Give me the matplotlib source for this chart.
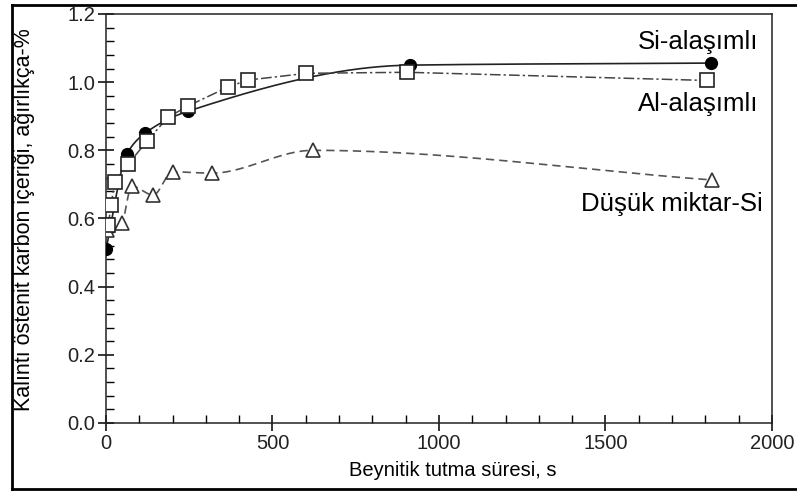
import numpy as np
import matplotlib
matplotlib.use("Agg")
import matplotlib.pyplot as plt
from matplotlib.ticker import MultipleLocator, FormatStrFormatter
from matplotlib.lines import Line2D

plt.rcParams['font.family'] = ['Liberation Sans', 'DejaVu Sans']

# Data
si_time = [0, 63, 117, 247, 914, 1816]
si_carbon = [0.51, 0.79, 0.85, 0.915, 1.05, 1.056]

al_time = [7, 15, 27, 67, 124, 186, 246, 365, 425, 602, 904, 1805]
al_carbon = [0.58, 0.64, 0.708, 0.76, 0.828, 0.897, 0.93, 0.985, 1.006, 1.026, 1.029, 1.005]

low_time = [2, 47, 77, 142, 200, 317, 621, 1820]
low_carbon = [0.566, 0.586, 0.695, 0.669, 0.737, 0.733, 0.80, 0.713]

series_labels = ["Si-alaşımlı", "Al-alaşımlı", "Düşük miktar-Si"]
x_label = "Beynitik tutma süresi, s"
y_label = "Kalıntı östenit karbon içeriği, ağırlıkça-%"


def pchip(x, y, n=400):
    """Monotone cubic (Fritsch-Carlson) curve through the given points, for drawing."""
    x = np.asarray(x, float)
    y = np.asarray(y, float)
    h = np.diff(x)
    d = np.diff(y) / h
    m = np.zeros_like(y)
    m[0] = d[0]
    m[-1] = d[-1]
    for i in range(1, len(x) - 1):
        if d[i - 1] * d[i] <= 0:
            m[i] = 0
        else:
            w1 = 2 * h[i] + h[i - 1]
            w2 = h[i] + 2 * h[i - 1]
            m[i] = (w1 + w2) / (w1 / d[i - 1] + w2 / d[i])
    xs = np.linspace(x[0], x[-1], n)
    idx = np.clip(np.searchsorted(x, xs) - 1, 0, len(x) - 2)
    t = (xs - x[idx]) / h[idx]
    h00 = 2 * t**3 - 3 * t**2 + 1
    h10 = t**3 - 2 * t**2 + t
    h01 = -2 * t**3 + 3 * t**2
    h11 = t**3 - t**2
    ys = h00 * y[idx] + h10 * h[idx] * m[idx] + h01 * y[idx + 1] + h11 * h[idx] * m[idx + 1]
    return xs, ys


W, H = 797, 492
fig = plt.figure(figsize=(W / 100, H / 100), dpi=100)
ax = fig.add_axes([106 / W, 1 - 423 / H, (772 - 106) / W, (423 - 14) / H])

# Si-alloyed: smooth solid curve
xs, ys = pchip(si_time, si_carbon)
ax.plot(xs, ys, color='#222222', lw=1.2, zorder=2)
ax.plot(si_time, si_carbon, 'o', color='black', ms=8.5, zorder=4)

# Al-alloyed: dash-dot line
ax.plot(al_time, al_carbon, color='#444444', lw=1.1, ls=(0, (7, 2, 1.5, 2)), zorder=2)
ax.plot(al_time, al_carbon, 's', mfc='white', mec='#222222', mew=1.2, ms=9.5, zorder=5)

# Low-Si: dashed line
xl, yl = pchip(low_time, low_carbon)
ax.plot(xl, yl, color='#555555', lw=1.2, ls=(0, (5, 3)), zorder=2)
ax.plot(low_time, low_carbon, '^', mfc='white', mec='#333333', mew=1.2, ms=9.5, zorder=3)

ax.set_xlim(0, 2000)
ax.set_ylim(0, 1.2)
ax.xaxis.set_major_locator(MultipleLocator(500))
ax.xaxis.set_minor_locator(MultipleLocator(100))
ax.yaxis.set_major_locator(MultipleLocator(0.2))
ax.yaxis.set_minor_locator(MultipleLocator(0.04))
ax.yaxis.set_major_formatter(FormatStrFormatter('%.1f'))

ax.tick_params(which='major', direction='inout', length=12, width=1.1, labelsize=14.5,
               labelcolor='#222222', pad=2)
ax.tick_params(which='minor', direction='in', length=6, width=1)
for s in ax.spines.values():
    s.set_linewidth(1.1)
    s.set_color('#222222')

ax.set_xlabel(x_label, fontsize=14.5)
ax.set_ylabel(y_label, fontsize=15.5)
ax.xaxis.set_label_coords((453 - 106) / (772 - 106), -(470 - 423) / (423 - 14))
ax.xaxis.label.set_verticalalignment('center')
ax.yaxis.set_label_coords(-(106 - 25) / (772 - 106), (423 - 220) / (423 - 14))
ax.yaxis.label.set_verticalalignment('center')

ax.text(1958, 1.118, series_labels[0], ha='right', va='center', fontsize=18.5)
ax.text(1958, 0.936, series_labels[1], ha='right', va='center', fontsize=18.5)
ax.text(1973, 0.643, series_labels[2], ha='right', va='center', fontsize=18.5)

# Outer frame of the figure
fig.add_artist(Line2D([12 / W, 12 / W], [1 - 489 / H, 1 - 5 / H], transform=fig.transFigure,
                      color='black', lw=2))
fig.add_artist(Line2D([12 / W, 1.0], [1 - 5 / H, 1 - 5 / H], transform=fig.transFigure,
                      color='black', lw=2))
fig.add_artist(Line2D([12 / W, 1.0], [1 - 489 / H, 1 - 489 / H], transform=fig.transFigure,
                      color='black', lw=2))

fig.savefig('out.png', dpi=100)
